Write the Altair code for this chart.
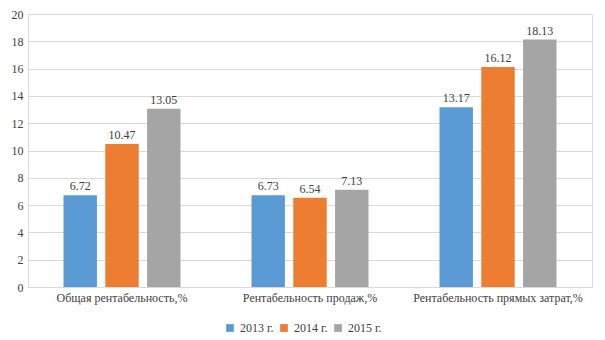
import altair as alt
import pandas as pd

categories = ["Общая рентабельность,%", "Рентабельность продаж,%", "Рентабельность прямых затрат,%"]
years = ["2013 г.", "2014 г.", "2015 г."]
v2013 = [6.72, 6.73, 13.17]
v2014 = [10.47, 6.54, 16.12]
v2015 = [13.05, 7.13, 18.13]
colors = ["#5B9BD5", "#ED7D31", "#A5A5A5"]

rows = []
for yr, vals in zip(years, [v2013, v2014, v2015]):
    for c, v in zip(categories, vals):
        rows.append({"cat": c, "year": yr, "value": v, "label": f"{v:.2f}"})
df = pd.DataFrame(rows)

FONT = "Liberation Serif"

xenc = alt.X("cat:N", sort=categories, title=None,
             scale=alt.Scale(paddingInner=0, paddingOuter=0),
             axis=alt.Axis(labelAngle=0, ticks=False, domainColor="#d9d9d9",
                           labelPadding=5, grid=False))
yenc = alt.Y("value:Q", title=None,
             scale=alt.Scale(domain=[0, 20]),
             axis=alt.Axis(values=list(range(0, 21, 2)), ticks=False, domain=False,
                           gridColor="#d9d9d9", labelPadding=5, labelOverlap=False))

base = alt.Chart(df).encode(
    x=xenc,
    y=yenc,
    xOffset=alt.XOffset("year:N", sort=years,
                        scale=alt.Scale(paddingInner=0.2, paddingOuter=0.85)),
)

bars = base.mark_bar().encode(
    color=alt.Color("year:N", sort=years,
                    scale=alt.Scale(domain=years, range=colors),
                    legend=alt.Legend(title=None, orient="none", direction="horizontal",
                                      legendX=196, legendY=308, symbolType="square",
                                      symbolSize=60, symbolStrokeWidth=0,
                                      labelFont=FONT, labelFontSize=12,
                                      labelColor="#404040", labelOffset=4,
                                      columnPadding=4)),
)

text = base.mark_text(dy=-9, font=FONT, fontSize=12, color="#404040").encode(
    text="label:N",
)

chart = (bars + text).properties(
    width=564, height=273,
    autosize=alt.AutoSizeParams(type="none"),
    padding={"left": 28, "top": 14, "right": 13, "bottom": 53},
).configure_view(stroke=None).configure(background="white").configure_axis(
    labelFont=FONT, labelFontSize=12, labelColor="#404040"
).configure_legend(
    labelFont=FONT, labelFontSize=12, labelColor="#404040"
)

chart.save("out.html", embed_options={"renderer": "svg", "actions": False})
